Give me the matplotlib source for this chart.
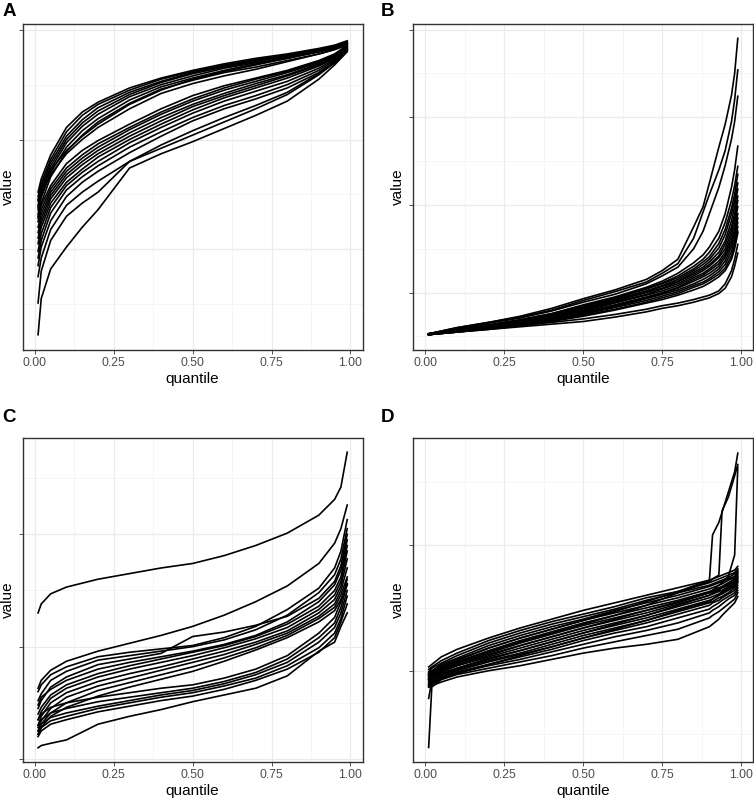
import numpy as np
import matplotlib
matplotlib.use('Agg')
import matplotlib.pyplot as plt
from matplotlib.ticker import FixedLocator, NullFormatter

plt.rcParams['font.family'] = ['Liberation Sans', 'DejaVu Sans']

# quantile grids (x values) per panel
q_a = [0.01, 0.02, 0.05, 0.1, 0.15, 0.2, 0.3, 0.4, 0.5, 0.6, 0.7, 0.8, 0.9, 0.95, 0.99]
q_b = [0.01, 0.1, 0.2, 0.3, 0.4, 0.5, 0.6, 0.7, 0.75, 0.8, 0.85, 0.88, 0.9, 0.93, 0.95, 0.97, 0.98, 0.99]
q_c = [0.01, 0.02, 0.05, 0.1, 0.2, 0.3, 0.4, 0.5, 0.6, 0.7, 0.8, 0.9, 0.95, 0.97, 0.99]
q_d = [0.01, 0.02, 0.05, 0.1, 0.2, 0.3, 0.4, 0.5, 0.6, 0.7, 0.8, 0.9, 0.91, 0.93, 0.94, 0.96, 0.98, 0.99]

# panel A values (arbitrary units; axis has no labels)
lines_a = [
    [1.52, 1.64, 1.86, 2.11, 2.25, 2.34, 2.47, 2.56, 2.63, 2.69, 2.74, 2.78, 2.83, 2.86, 2.90],
    [1.48, 1.60, 1.82, 2.07, 2.22, 2.32, 2.45, 2.55, 2.62, 2.68, 2.73, 2.77, 2.82, 2.85, 2.89],
    [1.44, 1.57, 1.79, 2.03, 2.18, 2.29, 2.43, 2.53, 2.61, 2.67, 2.72, 2.77, 2.82, 2.85, 2.89],
    [1.40, 1.54, 1.76, 2.00, 2.15, 2.26, 2.41, 2.52, 2.60, 2.66, 2.71, 2.76, 2.81, 2.84, 2.88],
    [1.36, 1.51, 1.73, 1.97, 2.12, 2.23, 2.39, 2.50, 2.58, 2.65, 2.70, 2.75, 2.80, 2.84, 2.88],
    [1.32, 1.47, 1.70, 1.93, 2.08, 2.19, 2.36, 2.48, 2.56, 2.63, 2.69, 2.74, 2.80, 2.83, 2.87],
    [1.45, 1.56, 1.72, 1.90, 2.03, 2.14, 2.32, 2.45, 2.55, 2.62, 2.68, 2.74, 2.80, 2.84, 2.88],
    [1.28, 1.42, 1.66, 1.89, 2.04, 2.16, 2.33, 2.46, 2.54, 2.61, 2.66, 2.72, 2.78, 2.82, 2.86],
    [1.38, 1.50, 1.68, 1.87, 2.00, 2.11, 2.28, 2.42, 2.51, 2.58, 2.64, 2.71, 2.78, 2.82, 2.87],
    [1.30, 1.40, 1.58, 1.78, 1.90, 1.99, 2.14, 2.28, 2.40, 2.49, 2.56, 2.63, 2.72, 2.78, 2.86],
    [1.25, 1.36, 1.55, 1.74, 1.86, 1.96, 2.11, 2.25, 2.37, 2.47, 2.55, 2.62, 2.71, 2.77, 2.85],
    [1.20, 1.32, 1.52, 1.71, 1.83, 1.93, 2.09, 2.23, 2.35, 2.45, 2.53, 2.61, 2.70, 2.76, 2.85],
    [1.15, 1.28, 1.49, 1.68, 1.80, 1.90, 2.06, 2.20, 2.32, 2.42, 2.51, 2.59, 2.69, 2.75, 2.84],
    [1.10, 1.24, 1.46, 1.65, 1.77, 1.87, 2.03, 2.17, 2.30, 2.40, 2.49, 2.58, 2.68, 2.75, 2.84],
    [1.05, 1.20, 1.42, 1.61, 1.73, 1.84, 2.00, 2.14, 2.27, 2.38, 2.47, 2.56, 2.67, 2.74, 2.83],
    [0.98, 1.14, 1.38, 1.58, 1.70, 1.80, 1.97, 2.11, 2.24, 2.35, 2.44, 2.53, 2.65, 2.73, 2.83],
    [0.92, 1.08, 1.33, 1.54, 1.66, 1.76, 1.93, 2.07, 2.20, 2.31, 2.40, 2.50, 2.63, 2.72, 2.82],
    [0.85, 1.02, 1.26, 1.48, 1.61, 1.71, 1.88, 2.03, 2.17, 2.28, 2.37, 2.47, 2.61, 2.71, 2.82],
    [0.75, 0.92, 1.18, 1.40, 1.52, 1.62, 1.80, 1.95, 2.08, 2.20, 2.31, 2.43, 2.60, 2.70, 2.82],
    [0.51, 0.80, 1.08, 1.30, 1.42, 1.52, 1.80, 1.92, 2.04, 2.16, 2.28, 2.41, 2.59, 2.70, 2.81],
    [0.22, 0.55, 0.82, 1.02, 1.20, 1.36, 1.74, 1.87, 1.98, 2.10, 2.22, 2.35, 2.55, 2.68, 2.80],
]

# panel B values
lines_b = [
    [0.53, 0.60, 0.66, 0.73, 0.82, 0.93, 1.03, 1.15, 1.25, 1.38, 1.75, 1.98, 2.25, 2.66, 2.92, 3.25, 3.50, 3.90],
    [0.53, 0.60, 0.66, 0.72, 0.80, 0.91, 1.01, 1.12, 1.22, 1.33, 1.62, 1.92, 2.12, 2.40, 2.62, 2.95, 3.20, 3.54],
    [0.53, 0.59, 0.65, 0.71, 0.79, 0.89, 0.98, 1.10, 1.19, 1.29, 1.50, 1.70, 1.90, 2.20, 2.45, 2.75, 2.95, 3.24],
    [0.53, 0.58, 0.63, 0.69, 0.76, 0.86, 0.95, 1.06, 1.13, 1.22, 1.34, 1.43, 1.52, 1.70, 1.90, 2.20, 2.40, 2.67],
    [0.53, 0.58, 0.63, 0.69, 0.76, 0.85, 0.94, 1.05, 1.11, 1.19, 1.30, 1.38, 1.46, 1.62, 1.80, 2.05, 2.22, 2.44],
    [0.53, 0.58, 0.63, 0.68, 0.75, 0.84, 0.93, 1.04, 1.10, 1.17, 1.27, 1.35, 1.41, 1.56, 1.72, 1.96, 2.12, 2.35],
    [0.53, 0.58, 0.62, 0.68, 0.75, 0.83, 0.92, 1.02, 1.08, 1.15, 1.25, 1.32, 1.38, 1.51, 1.66, 1.90, 2.05, 2.25],
    [0.53, 0.57, 0.62, 0.67, 0.74, 0.82, 0.91, 1.01, 1.07, 1.13, 1.23, 1.29, 1.35, 1.46, 1.59, 1.82, 1.98, 2.18],
    [0.52, 0.57, 0.62, 0.67, 0.73, 0.81, 0.90, 1.00, 1.05, 1.12, 1.21, 1.27, 1.32, 1.42, 1.55, 1.75, 1.90, 2.10],
    [0.52, 0.57, 0.61, 0.66, 0.73, 0.80, 0.89, 0.98, 1.04, 1.10, 1.19, 1.25, 1.30, 1.40, 1.50, 1.70, 1.85, 2.05],
    [0.52, 0.57, 0.61, 0.66, 0.72, 0.79, 0.88, 0.97, 1.02, 1.08, 1.17, 1.22, 1.27, 1.36, 1.46, 1.65, 1.78, 1.98],
    [0.52, 0.56, 0.61, 0.65, 0.71, 0.78, 0.86, 0.95, 1.00, 1.06, 1.15, 1.20, 1.25, 1.33, 1.43, 1.60, 1.72, 1.90],
    [0.52, 0.56, 0.60, 0.65, 0.70, 0.77, 0.85, 0.94, 0.99, 1.05, 1.13, 1.18, 1.22, 1.30, 1.40, 1.56, 1.68, 1.85],
    [0.52, 0.56, 0.60, 0.64, 0.69, 0.76, 0.84, 0.93, 0.98, 1.03, 1.10, 1.15, 1.19, 1.27, 1.36, 1.52, 1.63, 1.80],
    [0.52, 0.56, 0.60, 0.64, 0.69, 0.75, 0.83, 0.91, 0.96, 1.01, 1.08, 1.12, 1.16, 1.24, 1.32, 1.47, 1.58, 1.75],
    [0.52, 0.55, 0.59, 0.63, 0.68, 0.74, 0.81, 0.89, 0.94, 0.99, 1.06, 1.10, 1.14, 1.21, 1.28, 1.42, 1.53, 1.70],
    [0.52, 0.55, 0.59, 0.63, 0.67, 0.73, 0.80, 0.88, 0.92, 0.97, 1.03, 1.07, 1.11, 1.18, 1.25, 1.38, 1.50, 1.68],
    [0.52, 0.55, 0.58, 0.62, 0.66, 0.70, 0.75, 0.81, 0.85, 0.88, 0.92, 0.95, 0.97, 1.02, 1.10, 1.25, 1.38, 1.55],
    [0.52, 0.55, 0.58, 0.61, 0.64, 0.67, 0.72, 0.78, 0.82, 0.85, 0.89, 0.92, 0.94, 0.99, 1.05, 1.18, 1.30, 1.45],
]

# panel C values
lines_c = [
    [2.30, 2.38, 2.47, 2.53, 2.60, 2.65, 2.70, 2.74, 2.81, 2.90, 3.01, 3.17, 3.31, 3.42, 3.73],
    [1.63, 1.70, 1.79, 1.87, 1.96, 2.03, 2.10, 2.18, 2.28, 2.40, 2.54, 2.74, 2.92, 3.05, 3.26],
    [1.60, 1.66, 1.75, 1.82, 1.91, 1.95, 1.98, 2.01, 2.08, 2.18, 2.33, 2.52, 2.70, 2.85, 3.13],
    [1.52, 1.58, 1.70, 1.78, 1.88, 1.92, 1.96, 2.00, 2.06, 2.15, 2.28, 2.48, 2.64, 2.78, 3.05],
    [1.45, 1.52, 1.64, 1.73, 1.84, 1.89, 1.94, 2.09, 2.13, 2.19, 2.27, 2.43, 2.58, 2.72, 3.00],
    [1.48, 1.55, 1.62, 1.70, 1.80, 1.86, 1.91, 1.96, 2.02, 2.10, 2.22, 2.40, 2.55, 2.68, 2.95],
    [1.40, 1.46, 1.57, 1.66, 1.76, 1.83, 1.89, 1.95, 2.01, 2.09, 2.20, 2.36, 2.50, 2.62, 2.90],
    [1.35, 1.42, 1.54, 1.63, 1.73, 1.80, 1.86, 1.92, 1.99, 2.07, 2.17, 2.33, 2.46, 2.58, 2.85],
    [1.30, 1.38, 1.50, 1.59, 1.69, 1.76, 1.82, 1.89, 1.96, 2.04, 2.14, 2.30, 2.42, 2.54, 2.78],
    [1.28, 1.34, 1.45, 1.55, 1.65, 1.72, 1.79, 1.86, 1.93, 2.02, 2.12, 2.27, 2.38, 2.50, 2.70],
    [1.25, 1.31, 1.41, 1.50, 1.61, 1.68, 1.75, 1.82, 1.90, 1.99, 2.10, 2.25, 2.35, 2.46, 2.62],
    [1.22, 1.28, 1.38, 1.46, 1.56, 1.64, 1.71, 1.78, 1.87, 1.97, 2.08, 2.22, 2.32, 2.42, 2.55],
    [1.35, 1.40, 1.46, 1.50, 1.55, 1.59, 1.63, 1.66, 1.72, 1.80, 1.92, 2.12, 2.26, 2.40, 2.60],
    [1.30, 1.35, 1.41, 1.45, 1.51, 1.55, 1.59, 1.63, 1.69, 1.77, 1.89, 2.08, 2.21, 2.35, 2.56],
    [1.25, 1.31, 1.37, 1.41, 1.47, 1.52, 1.57, 1.61, 1.67, 1.75, 1.86, 2.04, 2.17, 2.30, 2.50],
    [1.22, 1.28, 1.34, 1.38, 1.45, 1.50, 1.55, 1.59, 1.65, 1.72, 1.83, 1.99, 2.12, 2.25, 2.45],
    [1.20, 1.25, 1.31, 1.35, 1.42, 1.47, 1.52, 1.56, 1.62, 1.70, 1.80, 1.95, 2.08, 2.22, 2.38],
    [1.10, 1.12, 1.14, 1.17, 1.31, 1.38, 1.44, 1.51, 1.57, 1.63, 1.74, 1.96, 2.04, 2.18, 2.30],
]

# panel D values
lines_d = [
    [1.03, 1.05, 1.11, 1.17, 1.26, 1.34, 1.41, 1.48, 1.54, 1.60, 1.66, 1.72, 1.73, 1.75, 1.76, 1.78, 1.80, 1.83],
    [1.01, 1.03, 1.08, 1.14, 1.24, 1.32, 1.39, 1.45, 1.51, 1.58, 1.63, 1.70, 1.71, 1.73, 1.74, 1.76, 1.78, 1.81],
    [0.99, 1.02, 1.06, 1.12, 1.22, 1.30, 1.37, 1.43, 1.49, 1.56, 1.62, 1.68, 1.69, 1.71, 1.72, 1.74, 1.77, 1.80],
    [0.98, 1.00, 1.05, 1.10, 1.20, 1.28, 1.35, 1.41, 1.48, 1.54, 1.60, 1.67, 1.68, 1.70, 1.71, 1.73, 1.75, 1.79],
    [0.97, 0.99, 1.03, 1.08, 1.18, 1.26, 1.33, 1.40, 1.46, 1.52, 1.58, 1.65, 1.66, 1.68, 1.69, 1.72, 1.74, 1.78],
    [0.96, 0.98, 1.02, 1.07, 1.16, 1.24, 1.31, 1.38, 1.44, 1.50, 1.56, 1.63, 1.64, 1.66, 1.67, 1.70, 1.73, 1.77],
    [0.95, 0.97, 1.01, 1.06, 1.14, 1.22, 1.29, 1.36, 1.42, 1.48, 1.54, 1.62, 1.63, 1.65, 1.66, 1.69, 1.72, 1.76],
    [0.94, 0.96, 1.00, 1.05, 1.13, 1.20, 1.27, 1.34, 1.40, 1.46, 1.53, 1.60, 1.61, 1.63, 1.64, 1.67, 1.70, 1.74],
    [0.93, 0.95, 0.99, 1.04, 1.11, 1.18, 1.25, 1.32, 1.38, 1.44, 1.51, 1.58, 1.59, 1.61, 1.63, 1.66, 1.69, 1.73],
    [0.92, 0.94, 0.98, 1.02, 1.10, 1.16, 1.23, 1.30, 1.36, 1.42, 1.49, 1.56, 1.57, 1.60, 1.61, 1.64, 1.67, 1.71],
    [0.91, 0.93, 0.97, 1.01, 1.08, 1.14, 1.21, 1.28, 1.34, 1.40, 1.47, 1.54, 1.55, 1.58, 1.59, 1.62, 1.66, 1.70],
    [0.90, 0.92, 0.96, 1.00, 1.07, 1.13, 1.19, 1.26, 1.32, 1.38, 1.45, 1.52, 1.54, 1.56, 1.58, 1.61, 1.64, 1.68],
    [0.89, 0.91, 0.95, 0.99, 1.05, 1.11, 1.17, 1.24, 1.30, 1.35, 1.42, 1.49, 1.51, 1.54, 1.56, 1.59, 1.62, 1.66],
    [0.88, 0.90, 0.94, 0.98, 1.04, 1.09, 1.15, 1.21, 1.27, 1.32, 1.38, 1.46, 1.48, 1.51, 1.53, 1.57, 1.60, 1.64],
    [0.87, 0.89, 0.93, 0.97, 1.02, 1.07, 1.12, 1.18, 1.23, 1.28, 1.33, 1.42, 1.44, 1.47, 1.49, 1.53, 1.57, 1.62],
    [0.87, 0.88, 0.91, 0.95, 1.00, 1.04, 1.09, 1.14, 1.18, 1.21, 1.25, 1.35, 1.37, 1.41, 1.44, 1.49, 1.54, 1.59],
    [0.39, 0.87, 0.93, 0.98, 1.05, 1.12, 1.19, 1.26, 1.33, 1.40, 1.48, 1.55, 1.57, 1.60, 1.62, 1.65, 1.68, 1.72],
    [0.78, 0.92, 0.97, 1.02, 1.09, 1.16, 1.23, 1.30, 1.37, 1.44, 1.52, 1.60, 1.62, 1.64, 1.66, 1.68, 1.71, 1.75],
    [0.97, 0.99, 1.04, 1.09, 1.18, 1.26, 1.33, 1.40, 1.47, 1.55, 1.63, 1.72, 2.08, 2.18, 2.26, 2.42, 2.58, 2.73],
    [0.95, 0.97, 1.02, 1.07, 1.15, 1.23, 1.30, 1.37, 1.44, 1.52, 1.62, 1.71, 1.73, 1.76, 2.27, 2.38, 2.55, 2.64],
    [0.93, 0.95, 0.99, 1.04, 1.12, 1.20, 1.27, 1.34, 1.41, 1.48, 1.55, 1.62, 1.64, 1.68, 1.70, 1.75, 1.92, 2.62],
]

x_ticks = [0.0, 0.25, 0.5, 0.75, 1.0]
x_tick_labels = ['0.00', '0.25', '0.50', '0.75', '1.00']

panels = [
    ('A', q_a, lines_a, [0.030, 0.5625, 0.451, 0.4075], (0.081, 3.053), [1, 2, 3], [0.5, 1.5, 2.5], (0.003, 0.996)),
    ('B', q_b, lines_b, [0.548, 0.5625, 0.451, 0.4075], (0.345, 4.064), [1, 2, 3, 4], [0.5, 1.5, 2.5, 3.5], (0.505, 0.996)),
    ('C', q_c, lines_c, [0.030, 0.047, 0.451, 0.406], (0.97, 3.86), [1, 2, 3], [1.5, 2.5, 3.5], (0.003, 0.489)),
    ('D', q_d, lines_d, [0.548, 0.047, 0.451, 0.406], (0.271, 2.854), [1, 2], [0.5, 1.5, 2.5], (0.505, 0.489)),
]

fig = plt.figure(figsize=(7.54, 8), dpi=100)

for letter, q, lines, rect, ylim, yticks, yminor, lab_xy in panels:
    ax = fig.add_axes(rect)
    for vals in lines:
        ax.plot(q, vals, color='black', lw=1.2, solid_joinstyle='round')
    ax.set_xlim(-0.039, 1.039)
    ax.set_ylim(*ylim)
    ax.set_xticks(x_ticks)
    ax.set_xticklabels(x_tick_labels)
    ax.xaxis.set_minor_locator(FixedLocator([0.125, 0.375, 0.625, 0.875]))
    ax.set_yticks(yticks)
    ax.yaxis.set_major_formatter(NullFormatter())
    ax.yaxis.set_minor_locator(FixedLocator(yminor))
    ax.grid(which='major', color='#EBEBEB', lw=0.9)
    ax.grid(which='minor', color='#F2F2F2', lw=0.5)
    ax.set_axisbelow(True)
    ax.tick_params(which='major', length=3, width=0.6, color='#333333',
                   labelsize=8.8, labelcolor='#4D4D4D', pad=2)
    ax.tick_params(which='minor', length=0)
    for sp in ax.spines.values():
        sp.set_color('#333333')
        sp.set_linewidth(1.0)
    ax.set_xlabel('quantile', fontsize=11)
    ax.set_ylabel('value', fontsize=11)
    ax.xaxis.set_label_coords(0.5, -0.066)
    ax.yaxis.set_label_coords(-0.024, 0.5)
    fig.text(lab_xy[0], lab_xy[1], letter, fontsize=13.5, fontweight='bold', ha='left', va='top')

fig.savefig('out.png', dpi=100)
